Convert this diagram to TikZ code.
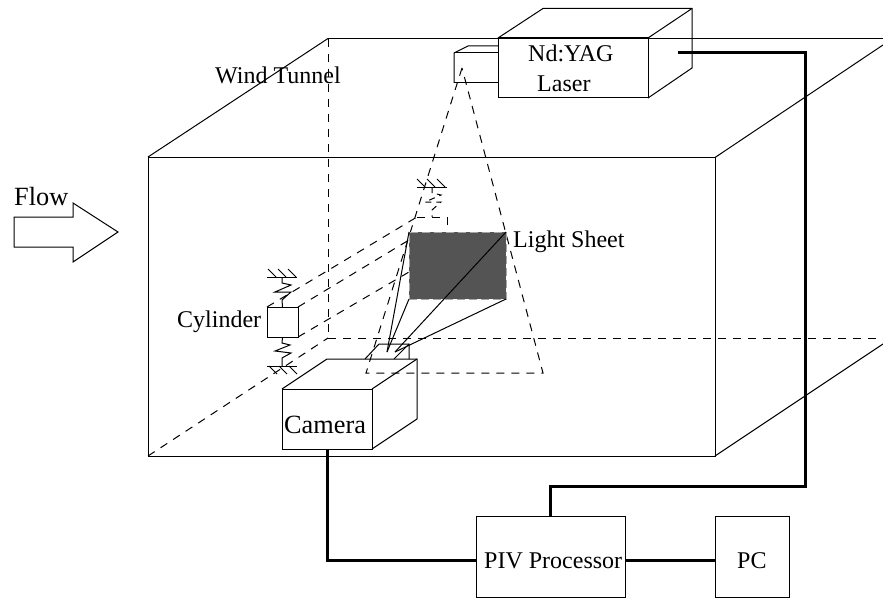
\documentclass[tikz,border=0pt]{standalone}
\usepackage{fontspec}
\setmainfont{Liberation Serif}
\tikzset{
  thinline/.style={draw=black,line width=1pt},
  dashline/.style={draw=black,line width=1pt,dash pattern=on 8pt off 7pt},
  heavyline/.style={draw=black,line width=3pt,line join=miter},
  boxnode/.style={draw=black,line width=1pt,inner sep=0pt,outer sep=0pt,anchor=north west},
  lab/.style={inner sep=0pt,anchor=base west,font=\fontsize{24}{24}\selectfont},
  labbig/.style={inner sep=0pt,anchor=base west,font=\fontsize{26.3}{26}\selectfont},
}
\begin{document}
\begin{tikzpicture}[x=1pt,y=-1pt]
\useasboundingbox (0,0) rectangle (883,599);
% wind tunnel
\draw[dashline] (328,39) -- (328,338);
\draw[dashline] (328,338) -- (883,338);
\draw[dashline] (148,456) -- (328,338);
\draw[thinline] (328,38.5) -- (883,38.5);
\draw[thinline] (148,157) -- (328,38.5);
\draw[thinline] (715,157.5) -- (883,45);
\draw[thinline] (715,456) -- (883,344);
\node[boxnode,minimum width=567pt,minimum height=299pt] (tunnel) at (148,157) {};
% laser beam triangle
\draw[dashline] (462,68) -- (366,373) -- (543,373) -- cycle;
% back cylinder
\draw[dashline] (417,217) -- (447,217) -- (447,232);
\draw[dashline,dash pattern=on 6pt off 5pt] (432,187) -- (432,193) -- (441,195) -- (425,202) -- (441,202) -- (432,210) -- (432,217);
\draw[thinline] (417,187) -- (447,187);
\foreach \x in {417,427,437} \draw[thinline] (\x,179) -- (\x+8,187);
% projection lines
\draw[dashline] (267,307) -- (417,217);
\draw[dashline] (298,307) -- (409,240);
\draw[dashline] (298,337) -- (409,272);
% light sheet
\node[draw=black!35,dash pattern=on 8pt off 4pt,fill=black!67,line width=1pt,inner sep=0pt,outer sep=0pt,anchor=north west,minimum width=97pt,minimum height=67pt] (sheet) at (409,232) {};
% cylinder
\node[boxnode,fill=white,minimum width=31pt,minimum height=30pt] (cyl) at (267,307) {};
\draw[thinline] (cyl.north) -- (282,300) -- (291,292) -- (275,292) -- (291,285) -- (282,283) -- (282,277);
\draw[thinline] (267,277) -- (297,277);
\foreach \x in {268,278,288} \draw[thinline] (\x,269) -- (\x+8,277);
\draw[thinline] (cyl.south) -- (282,343) -- (290,345) -- (275,351) -- (291,353) -- (282,358) -- (282,366);
\draw[thinline] (267,366) -- (297,366);
\foreach \x in {269,279,289} \draw[thinline] (\x,366) -- (\x+8,374);
% lens
\draw[thinline] (365,359) -- (379,344) -- (409,344) -- (409,359);
\draw[thinline] (394,359) -- (409,344);
% rays
\coordinate (r1) at (387,352);
\coordinate (r2) at (395,352);
\draw[thinline] (r1) -- (sheet.north west);
\draw[thinline] (r1) -- (sheet.south west);
\draw[thinline] (r2) -- (sheet.north east);
\draw[thinline] (r2) -- (sheet.south east);
% camera
\node[boxnode,minimum width=90pt,minimum height=60pt] (cam) at (282,389) {};
\draw[thinline] (cam.north west) -- (327,359) -- (417,359) -- (417,419) -- (cam.south east);
\draw[thinline] (cam.north east) -- (417,359);
% laser
\draw[thinline] (454,83) -- (454,53) -- (468,46) -- (498,46);
\draw[thinline] (454,53) -- (498,53);
\draw[thinline] (454,83) -- (498,83);
\node[boxnode,minimum width=150pt,minimum height=60pt] (laser) at (498,38) {};
\draw[thinline] (laser.north west) -- (543,8.5) -- (692,8.5) -- (692,68) -- (laser.south east);
\draw[thinline] (laser.north east) -- (692,8.5);
% bottom boxes
\node[boxnode,minimum width=149pt,minimum height=81pt] (piv) at (476,516) {};
\node[boxnode,minimum width=74pt,minimum height=81pt] (pc) at (715,516) {};
\coordinate (lasercon) at (678,53);
\coordinate (pivL) at (476,560.5);
\coordinate (pivR) at (625,560.5);
\coordinate (pcL) at (715,560.5);
\draw[heavyline] (cam.south) |- (pivL);
\draw[heavyline] (pivR) -- (pcL);
\draw[heavyline] (piv.north) -- (550.5,486) -- (805,486) -- (805,53) -- (lasercon);
% flow arrow
\draw[thinline] (14,217) -- (73,217) -- (73,203) -- (118,232) -- (73,262) -- (73,247) -- (14,247) -- cycle;
% labels
\node[lab] (t1) at (215,84) {Wind Tunnel};
\node[lab] (t2) at (528,62) {Nd:YAG};
\node[lab] (t3) at (537,92) {Laser};
\node[lab] (t4) at (513,247) {Light Sheet};
\node[lab] (t5) at (177,327.5) {Cylinder};
\node[labbig] (t6) at (284,433) {Camera};
\node[labbig] (t7) at (14,205) {Flow};
\node[lab] (t8) at (484,568) {PIV Processor};
\node[lab] (t9) at (737,568) {PC};
\end{tikzpicture}
\end{document}
